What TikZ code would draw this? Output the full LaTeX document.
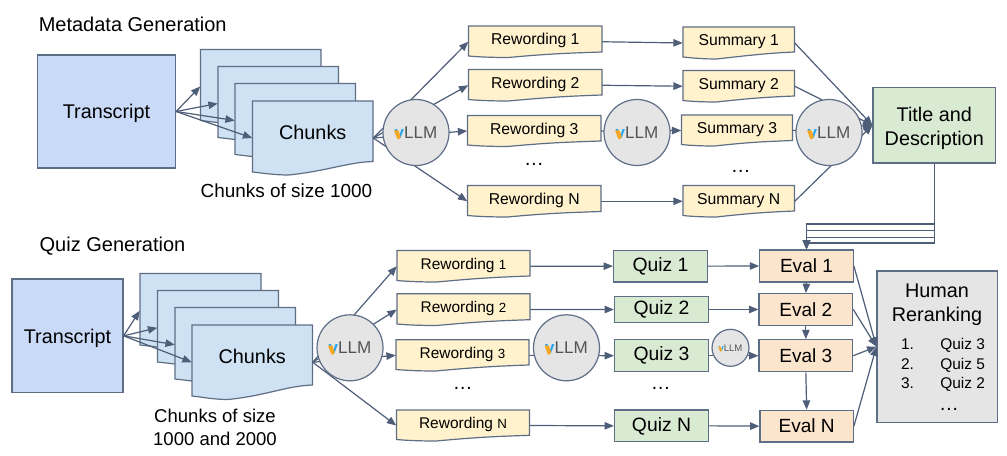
\documentclass[tikz,border=0pt]{standalone}
\usepackage{fontspec}
\setmainfont{Liberation Sans}
\usetikzlibrary{arrows.meta}
\definecolor{edgec}{HTML}{5F6E87}
\definecolor{linec}{HTML}{4E5D78}
\definecolor{tblue}{HTML}{C9DAF8}
\definecolor{sblue}{HTML}{CFE2F3}
\definecolor{yel}{HTML}{FFF2CC}
\definecolor{grn}{HTML}{D9EAD3}
\definecolor{org}{HTML}{FCE5CD}
\definecolor{gry}{HTML}{E5E5E5}
\definecolor{vblue}{HTML}{2AA5EE}
\definecolor{vorg}{HTML}{F7A823}
\definecolor{llmtxt}{HTML}{555555}
\tikzset{
  x=0.75pt,y=-0.75pt,
  outl/.style={draw=edgec,line width=0.9pt},
  arr/.style={draw=linec,line width=0.9pt,-{Triangle[length=7pt,width=5.6pt]}},
  lab/.style={anchor=base,inner sep=0pt,text=black},
  big/.style={font=\fontsize{14.85pt}{18pt}\selectfont},
  evalf/.style={font=\fontsize{14.3pt}{18pt}\selectfont},
  quizf/.style={font=\fontsize{14.5pt}{18pt}\selectfont},
  mid/.style={font=\fontsize{14.2pt}{17pt}\selectfont},
  small/.style={font=\fontsize{11.8pt}{14pt}\selectfont},
  tiny2/.style={font=\fontsize{11.6pt}{14pt}\selectfont},
}
% name x1 top x2 rightbottom leftbottom low fill text
\newcommand\docn[9]{%
  \pgfmathsetmacro\dw{#4-#2}%
  \pgfmathsetmacro\dcx{(#2+#4)/2}%
  \pgfmathsetmacro\dcy{(#3+#7)/2}%
  \pgfmathsetmacro\dax{#2+0.78*\dw}%
  \pgfmathsetmacro\dbx{#2+0.62*\dw}%
  \pgfmathsetmacro\dmx{#2+0.30*\dw}%
  \pgfmathsetmacro\dcxa{#2+0.18*\dw}%
  \pgfmathsetmacro\dcxb{#2+0.08*\dw}%
  \pgfmathsetlengthmacro\dwl{\dw*0.75pt}%
  \pgfmathsetlengthmacro\dtop{\dbase*0.75pt}%
  \pgfmathsetlengthmacro\dbot{(#7-#3-\dbase)*0.75pt}%
  \draw[outl,fill=#8] (#2,#3) -- (#4,#3) -- (#4,#5)
     .. controls (\dax,#5+1) and (\dbx,#7-4) .. (\dmx,#7)
     .. controls (\dcxa,#7) and (\dcxb,#6+1) .. (#2,#6) -- cycle;
  \node[inner sep=0pt,minimum width=\dwl,text height=\dtop,text depth=\dbot,\dfont] (#1) at (\dcx,\dcy) {#9};%
}
% name x1 y1 x2 y2 style text
\newcommand\boxn[7]{%
  \pgfmathsetlengthmacro\bw{(#4-#2)*0.75pt}%
  \pgfmathsetlengthmacro\bh{(#5-#3)*0.75pt}%
  \node[outl,inner sep=0pt,minimum width=\bw,minimum height=\bh,align=center,#6] (#1) at ({(#2+#4)/2},{(#3+#5)/2}) {#7};%
}
% name cx cy scale
\newcommand\vllm[4]{%
  \pgfmathsetlengthmacro\vd{66*#4*0.75pt}%
  \pgfmathsetlengthmacro\vf{12.8pt*#4}%
  \node[outl,fill=gry,circle,inner sep=0pt,minimum size=\vd,text=llmtxt,font=\fontsize{\vf}{\vf}\selectfont] (#1) at (#2,#3)
     {{\bfseries\color{vblue}v}LLM};%
  \fill[vorg] ({#2-22*#4},{#3-2.2*#4}) -- ({#2-17.6*#4},{#3-2.2*#4}) -- ({#2-15.4*#4},{#3+4*#4}) -- ({#2-16.6*#4},{#3+6.7*#4}) -- ({#2-18.6*#4},{#3+6.7*#4}) -- cycle;%
}
\begin{document}
\begin{tikzpicture}
\useasboundingbox (0,0) rectangle (1007,456);
\fill[white] (0,0) rectangle (1007,456);

%%% titles and captions
\node[lab,font=\fontsize{15pt}{18pt}\selectfont] (tmeta) at (132.7,31.7) {Metadata Generation};
\node[lab,font=\fontsize{15pt}{18pt}\selectfont] (tquiz) at (112.5,252) {Quiz Generation};
\node[lab,mid] (tc1) at (286.5,198) {Chunks of size 1000};
\node[lab,font=\fontsize{13.9pt}{17pt}\selectfont] (tc2) at (215,422.3) {Chunks of size};
\node[lab,font=\fontsize{13.9pt}{17pt}\selectfont] (tc3) at (215,445.3) {1000 and 2000};

%%% top row
\boxn{trA}{37.5}{55}{175.5}{168}{big,fill=tblue,text depth=0pt}{Transcript}
\def\dbase{38.2}\def\dfont{big}
\docn{sA1}{200.5}{49.5}{321}{110}{120.5}{123.5}{sblue}{}
\docn{sA2}{218}{66.5}{338.5}{127}{137.5}{140.5}{sblue}{}
\docn{sA3}{235}{83.5}{355.5}{144}{154.5}{157.5}{sblue}{}
\docn{sA4}{252.5}{101}{373}{161.5}{172}{175}{sblue}{Chunks}

\def\dbase{19}\def\dfont{small}
\docn{rA1}{468.5}{26}{602}{52}{56}{57.5}{yel}{Rewording 1}
\docn{rA2}{468.5}{69.5}{602}{95}{99.5}{101}{yel}{Rewording 2}
\docn{rA3}{467.5}{115.5}{601}{141}{145}{146.5}{yel}{Rewording 3}
\docn{rAN}{467.5}{185.5}{601}{211.5}{215.5}{217}{yel}{Rewording N}
\docn{mA1}{683}{27}{794.5}{52}{57}{59}{yel}{Summary 1}
\docn{mA2}{683}{70.5}{794.5}{96}{100.5}{102}{yel}{Summary 2}
\docn{mA3}{681.5}{115}{792.5}{140.5}{144.5}{146}{yel}{Summary 3}
\docn{mAN}{683}{185.5}{794.5}{211}{215.5}{217}{yel}{Summary N}
\boxn{title}{873}{87.5}{995.5}{163}{big,fill=grn}{\rule{0pt}{15.2pt}Title and\\Description}

\node[lab,big] (dA1) at (534,165.7) {…};
\node[lab,big] (dA2) at (740.7,173) {…};

%%% bottom row
\boxn{trB}{12}{279}{123}{392.7}{big,fill=tblue,text depth=0pt}{Transcript}
\def\dbase{38.2}\def\dfont{big}
\docn{sB1}{140}{273.5}{261}{334}{345}{348}{sblue}{}
\docn{sB2}{157.5}{290.5}{278.5}{351}{362}{365}{sblue}{}
\docn{sB3}{175}{307.5}{295.5}{368}{379}{382}{sblue}{}
\docn{sB4}{192}{325}{312.5}{385}{396}{399.5}{sblue}{Chunks}

\def\dbase{18.6}\def\dfont{tiny2}
\docn{rB1}{397}{250.5}{530}{276}{280.5}{282}{yel}{Rewording {\fontsize{10pt}{12pt}\selectfont 1}}
\docn{rB2}{397}{293.7}{530}{319.7}{324}{325.5}{yel}{Rewording {\fontsize{10pt}{12pt}\selectfont 2}}
\docn{rB3}{396}{339.7}{529}{365}{369.5}{371}{yel}{Rewording {\fontsize{10pt}{12pt}\selectfont 3}}
\docn{rBN}{396.5}{410}{529.5}{435.3}{439.5}{441}{yel}{Rewording {\fontsize{10pt}{12pt}\selectfont N}}

\boxn{qB1}{613.5}{250.3}{707.5}{282}{quizf,fill=grn}{Quiz 1}
\boxn{qB2}{614.5}{296.3}{708.5}{322.7}{quizf,fill=grn}{Quiz 2}
\boxn{qB3}{614.5}{339.7}{708.5}{371.7}{quizf,fill=grn}{Quiz 3}
\boxn{qBN}{614.5}{410}{708.5}{441.7}{quizf,fill=grn}{Quiz N}
\boxn{eB1}{759.7}{250}{853.3}{282}{evalf,fill=org}{Eval 1}
\boxn{eB2}{759}{293.7}{852.7}{325.3}{evalf,fill=org}{Eval 2}
\boxn{eB3}{759}{339.7}{852.7}{371.7}{evalf,fill=org}{Eval 3}
\boxn{eBN}{760}{410.3}{853.3}{442}{evalf,fill=org}{Eval N}
\boxn{hum}{877}{271}{997.3}{422.3}{fill=gry}{}

\node[lab,big] (hA) at (937,297.5) {Human};
\node[lab,big] (hB) at (937,321.5) {Reranking};
\node[lab,font=\fontsize{11.6pt}{14pt}\selectfont] (n1) at (907.5,349.2) {1.};
\node[lab,font=\fontsize{11.6pt}{14pt}\selectfont] (n2) at (907.5,369.2) {2.};
\node[lab,font=\fontsize{11.6pt}{14pt}\selectfont] (n3) at (907.5,388.2) {3.};
\node[lab,font=\fontsize{11.6pt}{14pt}\selectfont] (z1) at (962.7,349.2) {Quiz 3};
\node[lab,font=\fontsize{11.6pt}{14pt}\selectfont] (z2) at (962.7,369.2) {Quiz 5};
\node[lab,font=\fontsize{11.6pt}{14pt}\selectfont] (z3) at (962.7,388.2) {Quiz 2};
\node[lab,big] (dH) at (949,410) {…};
\node[lab,big] (dB1) at (462.7,389.7) {…};
\node[lab,big] (dB2) at (660.7,389.7) {…};

%%% connectors, top
\foreach \t in {sA1,sA2,sA3,sA4} \draw[arr] (trA.east) -- (\t.west);
\foreach \t in {rA1,rA2,rA3,rAN} \draw[arr] (sA4.east) -- (\t.west);
\draw[arr] (rA1.east) -- (mA1.west);
\draw[arr] (rA2.east) -- (mA2.west);
\draw[arr] (rA3.east) -- (mA3.west);
\draw[arr] (rAN.east) -- (mAN.west);
\foreach \t in {mA1,mA2,mA3,mAN} \draw[arr] (\t.east) -- (title.west);

%%% connectors, Title to Eval 1
\coordinate (bus1) at (806.5,224);
\coordinate (bus2) at (806.5,230.7);
\coordinate (bus3) at (806.5,237.3);
\coordinate (bus4) at (806.5,243);
\foreach \t in {bus1,bus2,bus3,bus4} \draw[arr] (title.south) |- (\t) -- (eB1.north);

%%% connectors, bottom
\foreach \t in {sB1,sB2,sB3,sB4} \draw[arr] (trB.east) -- (\t.west);
\foreach \t in {rB1,rB2,rB3,rBN} \draw[arr] (sB4.east) -- (\t.west);
\draw[arr] (rB1.east) -- (qB1.west);
\draw[arr] (rB2.east) -- (qB2.west);
\draw[arr] (rB3.east) -- (qB3.west);
\draw[arr] (rBN.east) -- (qBN.west);
\draw[arr] (qB1.east) -- (eB1.west);
\draw[arr] (qB2.east) -- (eB2.west);
\draw[arr] (qB3.east) -- (eB3.west);
\draw[arr] (qBN.east) -- (eBN.west);
\draw[arr] (eB1.south) -- (eB2.north);
\draw[arr] (eB2.south) -- (eB3.north);
\draw[arr] (eB3.south) -- (eBN.north);
\foreach \t in {eB1,eB2,eB3,eBN} \draw[arr] (\t.east) -- (hum.west);

%%% vLLM circles on top of connectors
\vllm{vA1}{416}{132.5}{1}
\vllm{vA2}{637}{132.5}{1}
\vllm{vA3}{829}{132.5}{1}
\vllm{vB1}{350}{347.8}{1}
\vllm{vB2}{566.5}{347.8}{1}
\vllm{vB3}{730.5}{347.8}{0.56}
\end{tikzpicture}
\end{document}
